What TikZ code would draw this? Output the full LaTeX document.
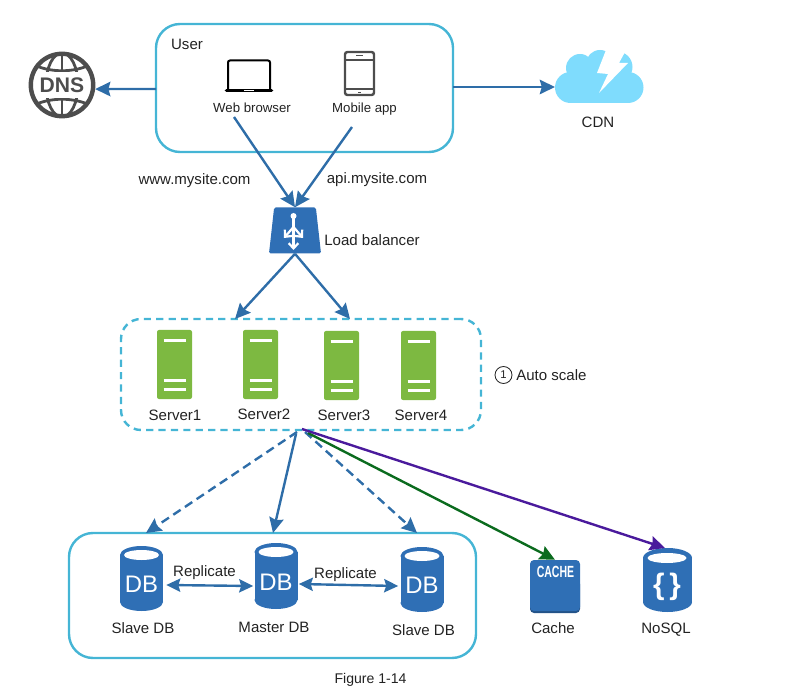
\documentclass[tikz,border=0pt]{standalone}
\usepackage{fontspec}
\setmainfont{Liberation Sans}
\usetikzlibrary{arrows.meta,shapes.geometric}
\definecolor{flowblue}{HTML}{2E6DA8}
\definecolor{iconblue}{HTML}{2F6FB5}
\definecolor{panelcyan}{HTML}{45B5D5}
\definecolor{servergreen}{HTML}{7DB941}
\definecolor{cdncyan}{HTML}{7FDCFD}
\definecolor{globegrey}{HTML}{4D4D4D}
\definecolor{labelgrey}{HTML}{222222}
\definecolor{cachegreen}{HTML}{0B6B1E}
\definecolor{nosqlviolet}{HTML}{4A1A9C}
\begin{document}
\begin{tikzpicture}[
  x=0.25mm, y=-0.25mm,
  line cap=butt, line join=miter,
  every node/.style={inner sep=0pt, text=labelgrey, font=\fontsize{10.7pt}{12pt}\selectfont},
  smalllabel/.style={font=\fontsize{9.4pt}{11pt}\selectfont},
  panel/.style={draw=panelcyan, line width=0.6mm, rounded corners=6mm},
  autodash/.style={dash pattern=on 1.8mm off 1.3mm},
  flowdash/.style={dash pattern=on 2.2mm off 1.3mm},
  flow/.style={draw=flowblue, line width=0.6mm, -{Stealth[length=3.8mm,width=3.6mm,inset=0.5mm]}},
  twoway/.style={draw=flowblue, line width=0.6mm, {Stealth[length=3.5mm,width=3.3mm,inset=0.5mm]}-{Stealth[length=3.5mm,width=3.3mm,inset=0.5mm]}},
  serverbody/.style={fill=servergreen, minimum width=8.75mm, minimum height=17.25mm, rounded corners=0.5mm},
  dbbody/.style={text=white, font=\fontsize{17pt}{18pt}\selectfont},
  bar/.style={draw=white, line width=0.7mm},
  lbmark/.style={draw=white, line width=0.55mm, -{Straight Barb[length=1.3mm,width=2.4mm]}}
]
  \useasboundingbox (0,0) rectangle (806,692);
  % ---- panels ----
  \node[panel, minimum width=74.25mm, minimum height=32mm] (usrbox) at (304.5,88) {};
  \node[panel, autodash, rounded corners=5mm, minimum width=90mm, minimum height=27.75mm] (srvbox) at (301,374.5) {};
  \node[panel, minimum width=101.75mm, minimum height=31.25mm] (dbbox) at (272.5,595.5) {};
  % ---- free ends of the connectors ----
  \coordinate (usrw) at (156,89);
  \coordinate (usre) at (453,87);
  \coordinate (webtail) at (234,117);
  \coordinate (apptail) at (352,127);
  \coordinate (srvl) at (235,319);
  \coordinate (srvr) at (350,319);
  \coordinate (downl) at (297,432);
  \coordinate (downm) at (296,434);
  \coordinate (downr) at (305,432);
  \coordinate (downg) at (308,433);
  \coordinate (downp) at (302,429);
  \coordinate (dbl) at (146,533);
  \coordinate (dbm) at (273,533);
  \coordinate (dbr) at (417,533);
  % ---- DNS globe ----
  \coordinate (dnsc) at (62,85);
  \begin{scope}
    \clip (dnsc) circle [radius=33];
    \draw[globegrey, line width=0.7mm] (dnsc) ellipse [x radius=16, y radius=32];
    \draw[globegrey, line width=0.7mm] (62,52) -- (62,118);
    \draw[globegrey, line width=0.7mm] (32,64) .. controls (50,73) and (74,73) .. (92,64);
    \draw[globegrey, line width=0.7mm] (32,106) .. controls (50,97) and (74,97) .. (92,106);
    \fill[white] (30,72) rectangle (94,98);
  \end{scope}
  \node[circle, draw=globegrey, line width=1.1mm, minimum size=15.6mm, text=globegrey,
    font=\fontsize{15pt}{15pt}\selectfont\bfseries] (dns) at (dnsc) {DNS};
  % ---- CDN cloud ----
  \fill[cdncyan] (570.5,87.5) circle [radius=15.5];
  \fill[cdncyan] (580,68) circle [radius=14];
  \fill[cdncyan] (600,64) circle [radius=14];
  \fill[cdncyan] (617,67) circle [radius=15.5];
  \fill[cdncyan] (628,87.5) circle [radius=15.5];
  \fill[cdncyan] (570,70) rectangle (628,103);
  \fill[white] (606,46) -- (606,50) -- (597,73) -- (608,74) -- (599,93) -- (628,63) -- (619,63) -- (625,52) -- (625,46) -- cycle;
  \node[minimum width=1mm, minimum height=1mm] (cdn) at (555,87) {};
  \node (cdnlabel) at (598,122) {CDN};
  % ---- laptop and phone ----
  \draw[black, line width=0.5mm, rounded corners=0.5mm] (228,90) -- (228,60.5) -- (270,60.5) -- (270,90);
  \draw[black, line width=0.9mm, line cap=round] (226.5,90.5) -- (271.5,90.5);
  \draw[white, line width=0.3mm] (244,90.5) -- (254,90.5);
  \node[draw=globegrey, line width=0.6mm, rounded corners=0.6mm, minimum width=7.25mm, minimum height=10.75mm] (phone) at (359.5,73.5) {};
  \draw[globegrey, line width=0.4mm] (345,60) -- (374,60) (345,89) -- (374,89);
  \draw[globegrey, line width=0.35mm] (356,55.5) -- (363,55.5) (358,92.5) -- (361,92.5);
  % ---- load balancer ----
  \node[trapezium, trapezium left angle=83, trapezium right angle=83, trapezium stretches=true, inner sep=1pt,
    fill=iconblue, rounded corners=0.4mm, minimum width=13mm, minimum height=11.5mm] (lb) at (295,230.5) {};
  \fill[white] (293.5,216) circle [radius=3];
  \draw[lbmark] (293.5,218) -- (293.5,250);
  \draw[lbmark] (293.5,227) -- (284,238);
  \draw[lbmark] (293.5,227) -- (303,238);
  % ---- servers ----
  \foreach \nm/\xc/\yc/\txt/\tx/\ty in {srva/174.5/364.5/Server1/175/415, srvb/260.5/364.5/Server2/264/414,
    srvc/341.5/365.5/Server3/344/415, srvd/418.5/365.5/Server4/421/415}{
    \node[serverbody] (\nm) at (\xc,\yc) {};
    \draw[bar] (\xc-11,\yc-24) -- (\xc+11,\yc-24);
    \draw[bar] (\xc-11,\yc+16) -- (\xc+11,\yc+16);
    \draw[bar] (\xc-11,\yc+25) -- (\xc+11,\yc+25);
    \node (\nm label) at (\tx,\ty) {\txt};
  }
  % ---- databases ----
  \foreach \nm/\xc/\yt/\yb/\txt/\tx/\ty in {sdba/141.5/546/611/Slave DB/143/628, mdb/276/543/609/Master DB/274/627, sdbb/422/547/612/Slave DB/423.5/630}{
    \fill[iconblue] (\xc,\yt+9) ellipse [x radius=21.5, y radius=9];
    \fill[iconblue] (\xc,\yb-9) ellipse [x radius=21.5, y radius=9];
    \fill[iconblue] (\xc-21.5,\yt+9) rectangle (\xc+21.5,\yb-9);
    \fill[white] (\xc,\yt+9) ellipse [x radius=17.5, y radius=5];
    \node[dbbody, minimum width=10.75mm, minimum height=7mm] (\nm) at (\xc,\yt/2+\yb/2+6) {DB};
    \node (\nm label) at (\tx,\ty) {\txt};
  }
  % ---- cache and NoSQL ----
  \fill[iconblue!75!black, rounded corners=1mm] (530,580) rectangle (580,613);
  \node[fill=iconblue, rounded corners=1mm, minimum width=12.5mm, minimum height=12.75mm] (cache) at (555,585.5) {};
  \node[text=white, font=\fontsize{11.5pt}{12pt}\selectfont\bfseries] (cachetxt) at (555.5,572) {\scalebox{.65}[1]{CACHE}};
  \node (cachelabel) at (553,628) {Cache};
  \fill[iconblue] (667.5,558) ellipse [x radius=24.5, y radius=10];
  \fill[iconblue] (667.5,602) ellipse [x radius=24.5, y radius=10];
  \fill[iconblue] (643,558) rectangle (692,602);
  \fill[white] (667,558) ellipse [x radius=19.5, y radius=5];
  \node[minimum width=1mm, minimum height=0.5mm] (nosql) at (665,548) {};
  \node[text=white, font=\fontsize{21pt}{22pt}\selectfont\bfseries] (bracetxt) at (667,587) {\{\,\}};
  \node (nosqllabel) at (666,629.5) {NoSQL};
  % ---- connectors ----
  \draw[flow] (usrw) -- (dns.-7);
  \draw[flow] (usre) -- (cdn.center);
  \draw[flow] (webtail) -- (lb.north);
  \draw[flow] (apptail) -- (lb.north);
  \draw[flow] (lb.south) -- (srvl);
  \draw[flow] (lb.south) -- (srvr);
  \draw[flow, flowdash] (downl) -- (dbl);
  \draw[flow] (downm) -- (dbm);
  \draw[flow, flowdash] (downr) -- (dbr);
  \draw[flow, draw=cachegreen] (downg) -- (cache.north);
  \draw[flow, draw=nosqlviolet] (downp) -- (nosql.center);
  \draw[twoway] (sdba.east) ++(3,0.5) coordinate (repa) (mdb.west) ++(-1,4) coordinate (repb) (repa) -- (repb);
  \draw[twoway] (mdb.east) ++(1,2) coordinate (repc) (sdbb.west) ++(-2,0.5) coordinate (repd) (repc) -- (repd);
  % ---- labels ----
  \node (usrlabel) at (187,44) {User};
  \node[smalllabel] (weblabel) at (252,107.5) {Web browser};
  \node[smalllabel] (applabel) at (364.5,109) {Mobile app};
  \node (wwwlabel) at (194.5,180.5) {www.mysite.com};
  \node (apilabel) at (377,179.5) {api.mysite.com};
  \node (lblabel) at (372,240) {Load balancer};
  \node[circle, draw=labelgrey, line width=0.2mm, minimum size=4.25mm, font=\fontsize{8pt}{8pt}\selectfont] (stepone) at (503.5,375) {1};
  \node[anchor=west] (autolabel) at (516,375.5) {Auto scale};
  \node (repla) at (204.5,573) {Replicate};
  \node (replb) at (345.5,574.5) {Replicate};
  \node[font=\fontsize{10pt}{12pt}\selectfont] (figlabel) at (370.5,679.5) {Figure 1-14};
\end{tikzpicture}
\end{document}
